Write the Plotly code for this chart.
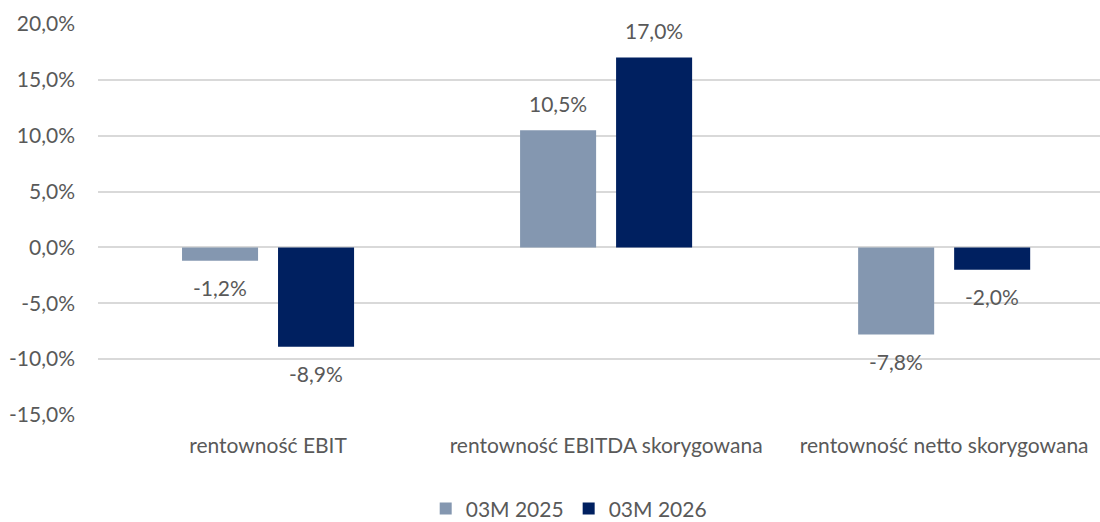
import plotly.graph_objects as go

categories = ["rentowność EBIT", "rentowność EBITDA skorygowana", "rentowność netto skorygowana"]
series_names = ["03M 2025", "03M 2026"]
values_2025 = [-1.2, 10.5, -7.8]
values_2026 = [-8.9, 17.0, -2.0]
y_ticks = [20, 15, 10, 5, 0, -5, -10, -15]

colors = ["#8497B0", "#002060"]
FONT = "Lato, 'Open Sans', sans-serif"
FS = 21
TXT = "#595959"

def fmt(v):
    return f"{v:.1f}".replace(".", ",") + "%"

fig = go.Figure()
for name, vals, col in zip(series_names, [values_2025, values_2026], colors):
    fig.add_trace(go.Bar(x=categories, y=vals, name=name, marker=dict(color=col, line=dict(width=0))))

annotations = []
for vals, xs in zip([values_2025, values_2026], [-48, 48]):
    for c, v in zip(categories, vals):
        annotations.append(dict(
            x=c, y=v, text=fmt(v), showarrow=False, xshift=xs,
            yshift=27 if v >= 0 else -27, yanchor="middle",
            font=dict(family=FONT, size=FS, color=TXT)))

fig.update_layout(
    width=1100, height=522,
    margin=dict(l=98, r=0, t=24, b=107, autoexpand=False),
    paper_bgcolor="white", plot_bgcolor="white",
    barmode="group", bargap=0.432, bargroupgap=0.208,
    font=dict(family=FONT, size=FS, color=TXT),
    annotations=annotations,
    showlegend=True,
    legend=dict(orientation="h", x=0.517, xanchor="center", xref="container",
                y=0.025, yanchor="middle", yref="container",
                font=dict(family=FONT, size=FS, color=TXT),
                itemwidth=30, traceorder="normal"),
    xaxis=dict(range=[-0.503, 2.461], showgrid=False, zeroline=False, showline=False,
               ticks="", ticklabelstandoff=16, automargin=False,
               tickfont=dict(family=FONT, size=FS, color=TXT)),
    yaxis=dict(range=[-15, 20], tickvals=y_ticks, ticktext=[fmt(t) for t in y_ticks],
               showgrid=True, gridcolor="#D9D9D9", gridwidth=1.5,
               zeroline=True, zerolinecolor="#D9D9D9", zerolinewidth=1.5,
               showline=False, ticks="", ticklabelstandoff=22, automargin=False,
               tickfont=dict(family=FONT, size=FS, color=TXT)),
)

fig.write_html("out.html", config={"displayModeBar": False},
               post_script="document.body.style.margin='0';document.body.style.padding='0';")
